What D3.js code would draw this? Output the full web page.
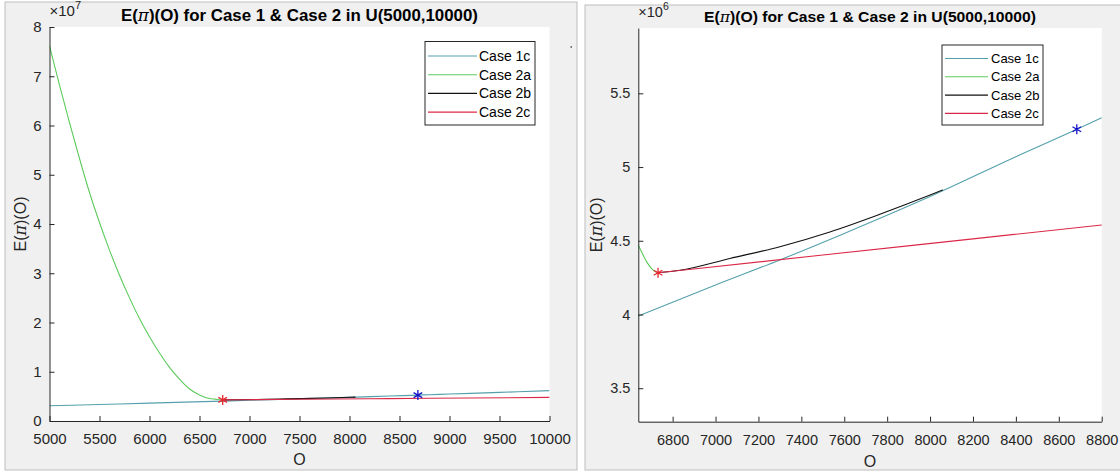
<!DOCTYPE html>
<html>
<head>
<meta charset="utf-8">
<script src="https://cdn.jsdelivr.net/npm/d3@7"></script>
<style>
  body { margin: 0; background: #fff; }
  svg { display: block; font-family: "Liberation Sans", Arial, sans-serif; }
</style>
</head>
<body>
<div id="graphic"></div>
<script>
// values
const seriesNames = ["Case 1c", "Case 2a", "Case 2b", "Case 2c"];
const seriesColors = ["#54a0ac", "#5ccb5c", "#111111", "#dc2847"];

const case1cO = [5000, 5500, 6000, 6640, 7000, 7300, 7600, 8000, 8400, 8684, 8800, 9000, 9500, 10000];
const case1cE = [3.10e6, 3.36e6, 3.63e6, 3.99e6, 4.20e6, 4.37e6, 4.55e6, 4.80e6, 5.07e6, 5.256e6, 5.335e6, 5.47e6, 5.81e6, 6.16e6];

const case2aO = [5000, 5100, 5200, 5300, 5400, 5500, 5600, 5700, 5800, 5900, 6000, 6100, 6200, 6300, 6400, 6500, 6600, 6640, 6660, 6680, 6700, 6720, 6732];
const case2aE = [7.62e7, 6.82e7, 6.06e7, 5.33e7, 4.64e7, 4.03e7, 3.47e7, 2.96e7, 2.50e7, 2.08e7, 1.71e7, 1.38e7, 1.09e7, 8.5e6, 6.5e6, 5.3e6, 4.56e6, 4.47e6, 4.41e6, 4.355e6, 4.315e6, 4.29e6, 4.283e6];

const case2bO = [6732, 6834, 7067, 7300, 7533, 7766, 8000, 8060];
const case2bE = [4.283e6, 4.30e6, 4.38e6, 4.46e6, 4.56e6, 4.68e6, 4.81e6, 4.845e6];

const case2cO = [6732, 7500, 8200, 8800, 10000];
const case2cE = [4.283e6, 4.403e6, 4.513e6, 4.607e6, 4.79e6];

// the two starred optima
const starO = [6732, 8684];
const starE = [4.283e6, 5.256e6];
const starColors = ["#e8262e", "#1414c8"];

const leftXTicks = [5000, 5500, 6000, 6500, 7000, 7500, 8000, 8500, 9000, 9500, 10000];
const leftYTicks = [0, 1e7, 2e7, 3e7, 4e7, 5e7, 6e7, 7e7, 8e7];
const rightXTicks = [6800, 7000, 7200, 7400, 7600, 7800, 8000, 8200, 8400, 8600, 8800];
const rightYTicks = [3.5e6, 4e6, 4.5e6, 5e6, 5.5e6];

const series = seriesNames.map(function(name, i){
  const os = [case1cO, case2aO, case2bO, case2cO][i];
  const es = [case1cE, case2aE, case2bE, case2cE][i];
  return { name: name, color: seriesColors[i], values: os.map((o, j) => ({ o: o, e: es[j] })) };
});
const stars = starO.map((o, i) => ({ o: o, e: starE[i], color: starColors[i] }));

const svg = d3.select("#graphic")
  .append("svg")
  .attr("width", 1120)
  .attr("height", 472);

const panel = {
  create(opts){
    const instance = Object.create(this);
    Object.keys(opts).forEach(function(key){
      instance[key] = opts[key];
    });
    return instance;
  },
  ink: "#262626",
  createScales(){
    this.xScale = d3.scaleLinear().domain(this.xDomain).range([this.left, this.right]);
    this.yScale = d3.scaleLinear().domain(this.yDomain).range([this.bottom, this.top]);
  },
  drawFrame(){
    this.g = svg.append("g").attr("class", "panel-" + this.id);
    // grey figure background
    this.g.append("rect")
      .attr("x", this.box[0]).attr("y", this.box[1])
      .attr("width", this.box[2]).attr("height", this.box[3])
      .attr("fill", "#f0f0f0")
      .attr("stroke", "#bdbdbd");
    this.g.append("rect")
      .attr("x", this.left).attr("y", this.top)
      .attr("width", this.right - this.left).attr("height", this.bottom - this.top)
      .attr("fill", "#fff");
    this.g.append("clipPath")
      .attr("id", "clip-" + this.id)
      .append("rect")
      .attr("x", this.left).attr("y", this.top)
      .attr("width", this.right - this.left).attr("height", this.bottom - this.top);
  },
  drawAxes(){
    const that = this;
    const xAxis = d3.axisBottom(this.xScale)
      .tickValues(this.xTicks)
      .tickFormat(d3.format("d"))
      .tickSizeInner(-5)
      .tickSizeOuter(0)
      .tickPadding(this.xPad);
    const yAxis = d3.axisLeft(this.yScale)
      .tickValues(this.yTicks)
      .tickFormat(d => +(d / Math.pow(10, that.exp)).toFixed(1))
      .tickSizeInner(-5)
      .tickSizeOuter(0)
      .tickPadding(8);

    [[xAxis, `translate(0,${this.bottom})`], [yAxis, `translate(${this.left},0)`]].forEach(function(a){
      that.g.append("g")
        .attr("transform", a[1])
        .style("color", that.ink)
        .call(a[0])
        .attr("font-size", that.tickFont)
        .attr("font-family", null);
    });

    // x10^n multiplier
    const ex = this.g.append("text")
      .attr("x", this.left)
      .attr("y", this.expY)
      .attr("fill", this.ink)
      .style("font-size", this.tickFont + "px");
    ex.append("tspan").text("\u00d710");
    ex.append("tspan")
      .attr("dy", -7)
      .style("font-size", (this.tickFont - 4) + "px")
      .text(String(this.exp));

    // axis labels
    this.g.append("text")
      .attr("x", (this.left + this.right) / 2)
      .attr("y", this.xLabelY)
      .attr("text-anchor", "middle")
      .attr("fill", this.ink)
      .style("font-size", "16px")
      .text("O");

    const yl = this.g.append("text")
      .attr("transform", `translate(${this.yLabelX},${(this.top + this.bottom) / 2}) rotate(-90)`)
      .attr("text-anchor", "middle")
      .attr("fill", this.ink)
      .style("font-size", "16px");
    yl.append("tspan").text("E(");
    yl.append("tspan").attr("font-style", "italic").attr("font-family", "'DejaVu Serif', serif").text("\u03c0");
    yl.append("tspan").text(")(O)");

    // title
    const t = this.g.append("text")
      .attr("x", (this.left + this.right) / 2)
      .attr("y", this.titleY)
      .attr("text-anchor", "middle")
      .attr("font-weight", "bold")
      .style("font-size", this.titleFont + "px")
      .attr("textLength", this.titleWidth)
      .attr("lengthAdjust", "spacingAndGlyphs")
      .attr("fill", "#000");
    t.append("tspan").text("E(");
    t.append("tspan").attr("font-weight", "normal").attr("font-style", "italic").attr("font-family", "'DejaVu Serif', serif").text("\u03c0");
    t.append("tspan").text(")(O) for Case 1 & Case 2 in U(5000,10000)");
  },
  drawData(){
    const that = this;
    const line = d3.line()
      .curve(d3.curveMonotoneX)
      .x(d => that.xScale(d.o))
      .y(d => that.yScale(d.e));

    const plot = this.g.append("g").attr("clip-path", `url(#clip-${this.id})`);
    plot.selectAll("path.series")
      .data(series)
      .enter()
      .append("path")
      .attr("class", "series")
      .attr("fill", "none")
      .attr("stroke", d => d.color)
      .attr("stroke-width", 1.1)
      .attr("d", d => line(d.values));

    plot.selectAll("path.star")
      .data(stars)
      .enter()
      .append("path")
      .attr("class", "star")
      .attr("transform", d => `translate(${that.xScale(d.o)},${that.yScale(d.e)})`)
      .attr("d", d3.symbol(d3.symbolAsterisk, 70))
      .attr("fill", "none")
      .attr("stroke", d => d.color)
      .attr("stroke-width", 1.3);
  },
  drawLegend(){
    const lg = this.legend;
    const leg = this.g.append("g");
    leg.append("rect")
      .attr("x", lg.x).attr("y", lg.y)
      .attr("width", lg.w).attr("height", lg.h)
      .attr("fill", "#fff")
      .attr("stroke", this.ink);
    const rows = leg.selectAll("g.row")
      .data(series)
      .enter()
      .append("g")
      .attr("transform", (d, i) => `translate(0,${lg.row0 + i * lg.step})`);
    rows.append("line")
      .attr("x1", lg.line0).attr("x2", lg.line1)
      .attr("stroke", d => d.color)
      .attr("stroke-width", 1.1);
    rows.append("text")
      .attr("x", lg.textX)
      .attr("dy", "0.35em")
      .style("font-size", lg.font + "px")
      .attr("fill", "#000")
      .text(d => d.name);
  },
  draw(){
    this.createScales();
    this.drawFrame();
    this.drawData();
    this.drawAxes();
    this.drawLegend();
  }
};

panel.create({
  id: "left",
  box: [5, 2, 572, 468],
  left: 49.5, right: 549.5, top: 27, bottom: 421,
  xDomain: [5000, 10000], yDomain: [0, 8e7],
  xTicks: leftXTicks, yTicks: leftYTicks, exp: 7,
  tickFont: 15, xPad: 12.5, expY: 15.5, xLabelY: 465, yLabelX: 26,
  titleY: 20.5, titleFont: 16, titleWidth: 357,
  legend: { x: 425, y: 41.5, w: 110, h: 83.5, row0: 56, step: 18.7, line0: 428, line1: 477, textX: 479, font: 14 }
}).draw();

panel.create({
  id: "right",
  box: [585, 5, 540, 465],
  left: 638.3, right: 1101.7, top: 28, bottom: 421.7,
  xDomain: [6640, 8800], yDomain: [3.273e6, 5.943e6],
  xTicks: rightXTicks, yTicks: rightYTicks, exp: 6,
  tickFont: 14.5, xPad: 13, expY: 16.5, xLabelY: 466.5, yLabelX: 602,
  titleY: 21.5, titleFont: 15.5, titleWidth: 332,
  legend: { x: 942, y: 45, w: 101, h: 80, row0: 58.5, step: 18.3, line0: 945, line1: 988, textX: 991, font: 13 }
}).draw();

// stray dot between the panels
svg.append("rect").attr("x", 570.5).attr("y", 46).attr("width", 1.5).attr("height", 2).attr("fill", "#777");
</script>
</body>
</html>
